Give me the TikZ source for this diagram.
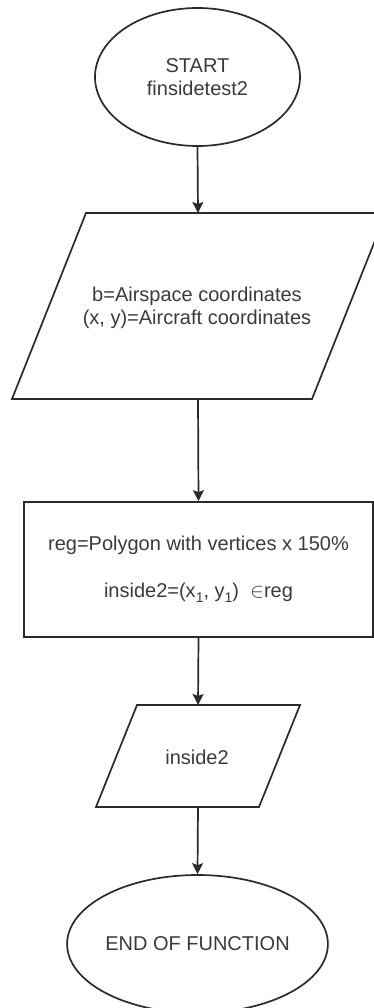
\documentclass[tikz,border=0pt]{standalone}
\usepackage{fontspec}
\setmainfont{Liberation Sans}
\usetikzlibrary{shapes.geometric,arrows.meta}
\definecolor{txtgray}{HTML}{3A3A3A}
\definecolor{linecol}{HTML}{2A2A2A}
\begin{document}
\begin{tikzpicture}[x=1pt,y=-1pt,
  shapeline/.style={draw=linecol, line width=1.7pt},
  arr/.style={draw=linecol, line width=1.7pt, -{Stealth[length=11pt,width=11pt,inset=2pt]}},
  txt/.style={text=txtgray, font=\fontsize{20}{23}\selectfont, align=center, inner sep=0pt},
  oval/.style={ellipse, shapeline, minimum width=205pt, minimum height=138pt, inner sep=0pt, txt}
  ]
\useasboundingbox (0,0) rectangle (374,1008);
\begin{scope}
\clip (0,0) rectangle (374,1008);
% start
\node[oval] (start) at (197.5,77) {START\\finsidetest2};
% input parallelogram
\draw[shapeline] (86,213) -- (386,213) -- (312,399) -- (12,399) -- cycle;
\coordinate (in1n) at (198,213);
\coordinate (in1s) at (198,399);
\node[txt] (in1) at (197,308) {b=Airspace coordinates\\(x, y)=Aircraft coordinates};
% process
\node[rectangle, shapeline, minimum width=349pt, minimum height=135pt, inner sep=0pt, txt] (proc) at (198.5,569.5)
  {reg=Polygon with vertices x 150\%\\[24pt]inside2=(x\raisebox{-5pt}{\fontsize{14}{14}\selectfont 1}, y\raisebox{-5pt}{\fontsize{14}{14}\selectfont 1})~~$\in$reg};
% output parallelogram
\draw[shapeline] (137,705) -- (300,705) -- (259,807) -- (96,807) -- cycle;
\coordinate (out2n) at (198,705);
\coordinate (out2s) at (198,807);
\node[txt] (out2) at (197,757) {inside2};
% end
\node[oval] (stop) at (197.5,944) {END OF FUNCTION};
% connectors
\draw[arr] (start.south) -- (in1n);
\draw[arr] (in1s) -- (proc.north);
\draw[arr] (proc.south) -- (out2n);
\draw[arr] (out2s) -- (stop.north);
\end{scope}
\end{tikzpicture}
\end{document}
